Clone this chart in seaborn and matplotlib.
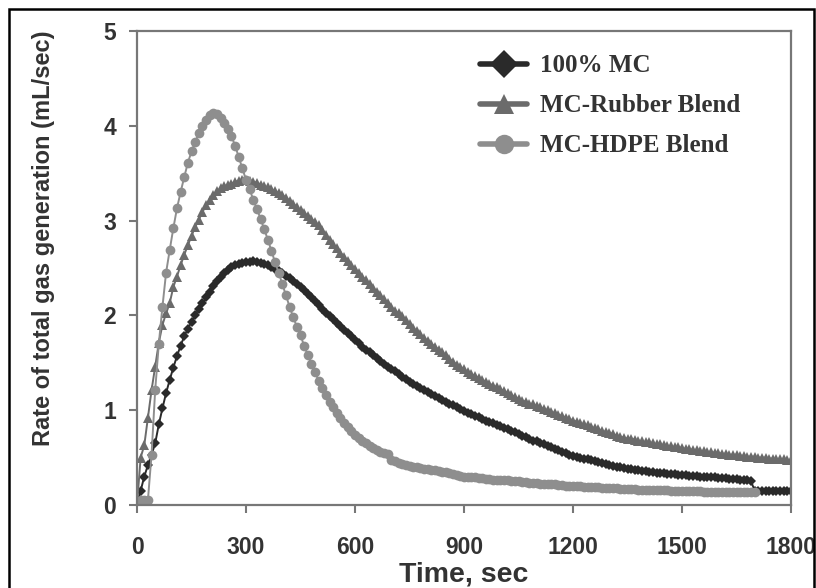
import matplotlib
matplotlib.use("Agg")
import matplotlib.pyplot as plt
import seaborn as sns
import pandas as pd
from matplotlib.lines import Line2D
from matplotlib.patches import Rectangle

# time axis, 10 s sampling
time_s = list(range(0, 1810, 10))

mc_100 = [
    0.00, 0.15, 0.30, 0.42, 0.53, 0.65, 0.85, 1.02, 1.18, 1.32,
    1.45, 1.57, 1.68, 1.78, 1.86, 1.93, 2.00, 2.07, 2.13, 2.19,
    2.25, 2.31, 2.36, 2.41, 2.45, 2.48, 2.51, 2.53, 2.54, 2.55,
    2.56, 2.56, 2.57, 2.56, 2.55, 2.54, 2.53, 2.51, 2.49, 2.47,
    2.45, 2.42, 2.39, 2.36, 2.33, 2.30, 2.27, 2.23, 2.19, 2.15,
    2.11, 2.07, 2.03, 1.99, 1.96, 1.92, 1.89, 1.85, 1.81, 1.78,
    1.74, 1.71, 1.67, 1.64, 1.61, 1.58, 1.55, 1.52, 1.49, 1.46,
    1.43, 1.41, 1.38, 1.35, 1.33, 1.30, 1.28, 1.25, 1.23, 1.21,
    1.19, 1.17, 1.15, 1.13, 1.11, 1.09, 1.07, 1.05, 1.03, 1.01,
    0.99, 0.97, 0.96, 0.94, 0.93, 0.91, 0.89, 0.88, 0.86, 0.84,
    0.83, 0.81, 0.80, 0.78, 0.77, 0.75, 0.73, 0.72, 0.70, 0.68,
    0.67, 0.65, 0.64, 0.62, 0.61, 0.59, 0.58, 0.56, 0.55, 0.53,
    0.52, 0.51, 0.50, 0.49, 0.48, 0.47, 0.46, 0.45, 0.44, 0.43,
    0.42, 0.41, 0.40, 0.40, 0.39, 0.38, 0.38, 0.37, 0.37, 0.36,
    0.36, 0.35, 0.35, 0.34, 0.34, 0.34, 0.33, 0.33, 0.33, 0.32,
    0.32, 0.32, 0.31, 0.31, 0.31, 0.30, 0.30, 0.29, 0.29, 0.29,
    0.28, 0.28, 0.28, 0.27, 0.27, 0.27, 0.26, 0.26, 0.26, 0.25,
    0.15, 0.15, 0.15, 0.15, 0.15, 0.15, 0.15, 0.15, 0.15, 0.15,
    0.15,
]

mc_rubber = [
    0.00, 0.50, 0.63, 0.92, 1.21, 1.46, 1.71, 1.90, 2.02, 2.13,
    2.30, 2.41, 2.53, 2.64, 2.74, 2.84, 2.93, 3.01, 3.09, 3.16,
    3.22, 3.27, 3.31, 3.34, 3.36, 3.38, 3.39, 3.41, 3.42, 3.43,
    3.43, 3.42, 3.41, 3.40, 3.38, 3.36, 3.35, 3.33, 3.31, 3.29,
    3.27, 3.24, 3.21, 3.18, 3.14, 3.11, 3.08, 3.05, 3.02, 2.98,
    2.95, 2.90, 2.85, 2.80, 2.75, 2.71, 2.66, 2.62, 2.57, 2.53,
    2.49, 2.45, 2.41, 2.37, 2.33, 2.29, 2.25, 2.21, 2.17, 2.13,
    2.09, 2.05, 2.02, 1.99, 1.95, 1.91, 1.87, 1.83, 1.80, 1.76,
    1.73, 1.70, 1.67, 1.64, 1.61, 1.58, 1.54, 1.51, 1.48, 1.46,
    1.43, 1.40, 1.38, 1.36, 1.34, 1.32, 1.30, 1.28, 1.26, 1.24,
    1.22, 1.20, 1.18, 1.16, 1.14, 1.12, 1.10, 1.09, 1.07, 1.06,
    1.04, 1.03, 1.01, 1.00, 0.98, 0.97, 0.95, 0.94, 0.92, 0.91,
    0.89, 0.88, 0.86, 0.85, 0.84, 0.82, 0.81, 0.80, 0.78, 0.77,
    0.76, 0.75, 0.73, 0.72, 0.71, 0.70, 0.70, 0.69, 0.68, 0.67,
    0.66, 0.66, 0.65, 0.64, 0.64, 0.63, 0.62, 0.62, 0.61, 0.61,
    0.60, 0.59, 0.59, 0.58, 0.58, 0.57, 0.57, 0.56, 0.56, 0.55,
    0.55, 0.54, 0.54, 0.53, 0.53, 0.53, 0.52, 0.52, 0.51, 0.51,
    0.51, 0.50, 0.50, 0.50, 0.49, 0.49, 0.48, 0.48, 0.48, 0.47,
    0.47,
]

# HDPE blend stops at 1700 s
mc_hdpe = [
    0.00, 0.05, 0.05, 0.05, 0.53, 1.21, 1.70, 2.09, 2.45, 2.69,
    2.92, 3.13, 3.30, 3.46, 3.61, 3.73, 3.83, 3.92, 4.00, 4.06,
    4.11, 4.14, 4.12, 4.08, 4.03, 3.97, 3.89, 3.79, 3.67, 3.55,
    3.43, 3.33, 3.22, 3.12, 3.02, 2.91, 2.80, 2.68, 2.56, 2.45,
    2.33, 2.21, 2.09, 1.98, 1.88, 1.79, 1.68, 1.58, 1.49, 1.40,
    1.31, 1.23, 1.16, 1.09, 1.03, 0.97, 0.92, 0.87, 0.82, 0.78,
    0.74, 0.71, 0.68, 0.65, 0.62, 0.60, 0.58, 0.56, 0.55, 0.54,
    0.47, 0.46, 0.44, 0.43, 0.42, 0.41, 0.40, 0.40, 0.39, 0.38,
    0.38, 0.37, 0.37, 0.36, 0.35, 0.35, 0.34, 0.33, 0.32, 0.31,
    0.30, 0.30, 0.29, 0.29, 0.28, 0.28, 0.27, 0.27, 0.26, 0.26,
    0.26, 0.26, 0.26, 0.25, 0.25, 0.25, 0.24, 0.24, 0.23, 0.23,
    0.23, 0.22, 0.22, 0.22, 0.22, 0.22, 0.21, 0.21, 0.20, 0.20,
    0.20, 0.20, 0.20, 0.19, 0.19, 0.19, 0.19, 0.19, 0.18, 0.18,
    0.18, 0.18, 0.18, 0.17, 0.17, 0.17, 0.17, 0.17, 0.16, 0.16,
    0.16, 0.16, 0.16, 0.16, 0.16, 0.16, 0.16, 0.15, 0.15, 0.15,
    0.15, 0.15, 0.15, 0.15, 0.15, 0.15, 0.14, 0.14, 0.14, 0.14,
    0.14, 0.14, 0.14, 0.14, 0.14, 0.14, 0.14, 0.14, 0.14, 0.14,
    0.14,
]

labels = ["100% MC", "MC-Rubber Blend", "MC-HDPE Blend"]
colors = ["#2a2a2a", "#6b6b6b", "#8e8e8e"]
markers = ["D", "^", "o"]
msizes = [5.5, 7.0, 7.0]

sns.set_style("ticks")
plt.rcParams["font.family"] = ["Liberation Sans", "DejaVu Sans"]
plt.rcParams["font.weight"] = "bold"

fig = plt.figure(figsize=(8.16, 5.88), dpi=100)
ax = fig.add_axes([0.1679, 0.1412, 0.8015, 0.8061])

series = [mc_100, mc_rubber, mc_hdpe]
for vals, lab, c, m, ms in zip(series, labels, colors, markers, msizes):
    df = pd.DataFrame({"time": time_s[: len(vals)], "rate": vals})
    sns.lineplot(
        data=df, x="time", y="rate", ax=ax, color=c, marker=m,
        markersize=ms, markeredgewidth=0, linewidth=1.4, label=None,
        legend=False,
    )

ax.set_xlim(0, 1800)
ax.set_ylim(0, 5)
ax.set_xticks(range(0, 1801, 300))
ax.set_yticks(range(0, 6))

ax.set_xlabel("Time, sec", fontsize=20.5, fontweight="bold", color="#333333")
ax.set_ylabel("Rate of total gas generation (mL/sec)", fontsize=17,
              fontweight="bold", color="#333333")
ax.xaxis.set_label_coords(0.5, -0.12)
ax.yaxis.set_label_coords(-0.126, 0.563)
ax.tick_params(axis="both", labelsize=16.5, colors="#777777",
               labelcolor="#333333", length=6, width=1.5, direction="out")
ax.tick_params(axis="x", pad=16)
ax.tick_params(axis="y", pad=9)
for sp in ax.spines.values():
    sp.set_color("#777777")
    sp.set_linewidth(1.6)

# legend with large markers, serif font
handles = [
    Line2D([0], [0], color=c, marker=m, markersize=14, linewidth=4,
           markeredgewidth=0)
    for c, m in zip(colors, markers)
]
ax.legend(handles, labels, loc="upper left",
          bbox_to_anchor=(0.49, 0.998), frameon=False,
          prop={"family": "Liberation Serif", "weight": "bold", "size": 18},
          handlelength=1.9, handletextpad=0.5, labelspacing=0.68,
          labelcolor="#333333")

# outer frame around the whole picture
fig.patches.append(Rectangle((0.011, -0.01), 0.987, 0.995,
                             transform=fig.transFigure, fill=False,
                             edgecolor="black", linewidth=1.8))

fig.savefig("out.png", dpi=100)
